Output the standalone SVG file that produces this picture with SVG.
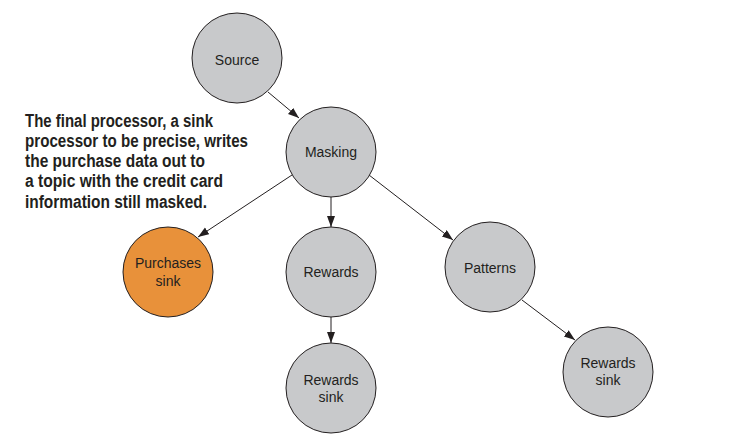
<svg xmlns="http://www.w3.org/2000/svg" width="754" height="445" viewBox="0 0 754 445">
<style>
.node circle{fill:#c8c9cb;stroke:#231f20;stroke-width:1}
.node.orange circle{fill:#e8913a}
.node text{font-family:"Liberation Sans",Arial,sans-serif;font-size:14px;fill:#231f20;text-anchor:middle}
.edges line{stroke:#231f20;stroke-width:1;marker-end:url(#arr)}
.note{font-family:"Liberation Sans",Arial,sans-serif;font-weight:bold;font-size:18px;fill:#231f20}
</style>
<defs>
<marker id="arr" markerUnits="userSpaceOnUse" markerWidth="12" markerHeight="10" refX="11" refY="4" orient="auto">
<path d="M0,0 L11,4 L0,8 Z" fill="#231f20"/>
</marker>
</defs>
<rect width="754" height="445" fill="#ffffff"/>
<g class="edges">
<line x1="268" y1="92" x2="299" y2="118"/>
<line x1="292" y1="175" x2="198" y2="237"/>
<line x1="331" y1="197" x2="331" y2="227"/>
<line x1="369" y1="175" x2="453" y2="240"/>
<line x1="522" y1="300" x2="575" y2="340"/>
<line x1="331" y1="317" x2="331" y2="343"/>
</g>
<g id="source" class="node"><circle cx="237" cy="58" r="45"/><text x="237" y="65">Source</text></g>
<g id="masking" class="node"><circle cx="331" cy="152" r="45"/><text x="331" y="157">Masking</text></g>
<g id="purchases-sink" class="node orange"><circle cx="168" cy="272" r="45"/><text x="168" y="268">Purchases</text><text x="168" y="286">sink</text></g>
<g id="rewards" class="node"><circle cx="331" cy="272" r="45"/><text x="331" y="277">Rewards</text></g>
<g id="rewards-sink-1" class="node"><circle cx="331" cy="388" r="45"/><text x="331" y="385">Rewards</text><text x="331" y="402">sink</text></g>
<g id="patterns" class="node"><circle cx="490" cy="267" r="45"/><text x="490" y="273">Patterns</text></g>
<g id="rewards-sink-2" class="node"><circle cx="608" cy="372" r="45"/><text x="608" y="368">Rewards</text><text x="608" y="385">sink</text></g>
<g id="note">
<text class="note" x="25" y="127" textLength="188" lengthAdjust="spacingAndGlyphs">The final processor, a sink</text>
<text class="note" x="25" y="147" textLength="223" lengthAdjust="spacingAndGlyphs">processor to be precise, writes</text>
<text class="note" x="25" y="167" textLength="180" lengthAdjust="spacingAndGlyphs">the purchase data out to</text>
<text class="note" x="25" y="187" textLength="198" lengthAdjust="spacingAndGlyphs">a topic with the credit card</text>
<text class="note" x="25" y="208" textLength="182" lengthAdjust="spacingAndGlyphs">information still masked.</text>
</g>
</svg>
